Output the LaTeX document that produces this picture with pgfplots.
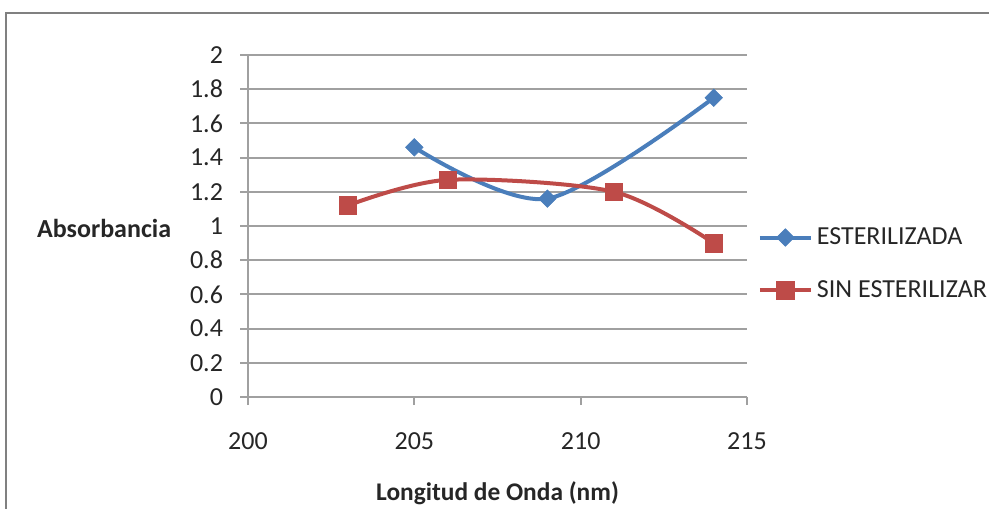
\documentclass[border=0pt]{standalone}
\usepackage{fontspec}
\setmainfont{Carlito}
\usepackage{pgfplots}
\pgfplotsset{compat=1.18}
\definecolor{serA}{HTML}{4A7EBB}
\definecolor{serB}{HTML}{BE4B48}
\definecolor{gridc}{HTML}{A0A0A0}
\begin{document}
\begin{tikzpicture}
\path[use as bounding box] (0,0) rectangle (494.5pt,-254pt);
\draw[gray, line width=1.2pt] (3pt,-6.5pt) rectangle (520pt,-280pt);
\begin{axis}[
  at={(124pt,-198.5pt)}, anchor=south west,
  scale only axis, width=249.5pt, height=171pt,
  xmin=200, xmax=215, ymin=0, ymax=2,
  xtick={200,205,210,215},
  ytick={0,0.2,0.4,0.6,0.8,1,1.2,1.4,1.6,1.8,2},
  /pgf/number format/assume math mode=true,
  /pgf/number format/fixed,
  axis lines*=left,
  axis line style={gridc, line width=1pt},
  ymajorgrids, grid style={gridc, line width=1pt},
  tick align=outside, major tick length=4pt,
  tick style={gridc, line width=1pt},
  every tick label/.append style={font=\fontsize{13}{15}\selectfont, text=black!85},
  xticklabel style={yshift=-10.5pt},
  yticklabel style={xshift=-5pt},
  legend style={at={(axis description cs:1.009,0.389)}, anchor=west, draw=none, fill=none,
    font=\fontsize{13}{15}\selectfont, row sep=12.5pt, text=black!85},
  legend cell align=left,
  legend image code/.code={\draw[mark repeat=2,mark phase=2,#1] plot coordinates {(0pt,0pt) (12.75pt,0pt) (25.5pt,0pt)};},
]
\addplot[serA, line width=2pt, smooth, mark=square*, mark size=3.1pt, mark options={rotate=45, solid, line width=0.3pt, fill=serA}]
  coordinates {(205,1.46) (209,1.16) (214,1.75)};
\addlegendentry{ESTERILIZADA}
\addplot[serB, line width=2pt, smooth, mark=square*, mark size=4.4pt, mark options={solid, line width=0.3pt, fill=serB}]
  coordinates {(203,1.12) (206,1.27) (211,1.20) (214,0.90)};
\addlegendentry{SIN ESTERILIZAR}
\end{axis}
\node[anchor=west, font=\fontsize{13}{15}\selectfont\bfseries, text=black!85] at (15pt,-114pt) {Absorbancia};
\node[anchor=base, font=\fontsize{12.7}{15}\selectfont\bfseries, text=black!85] at (248.75pt,-250pt) {Longitud de Onda (nm)};
\end{tikzpicture}
\end{document}
